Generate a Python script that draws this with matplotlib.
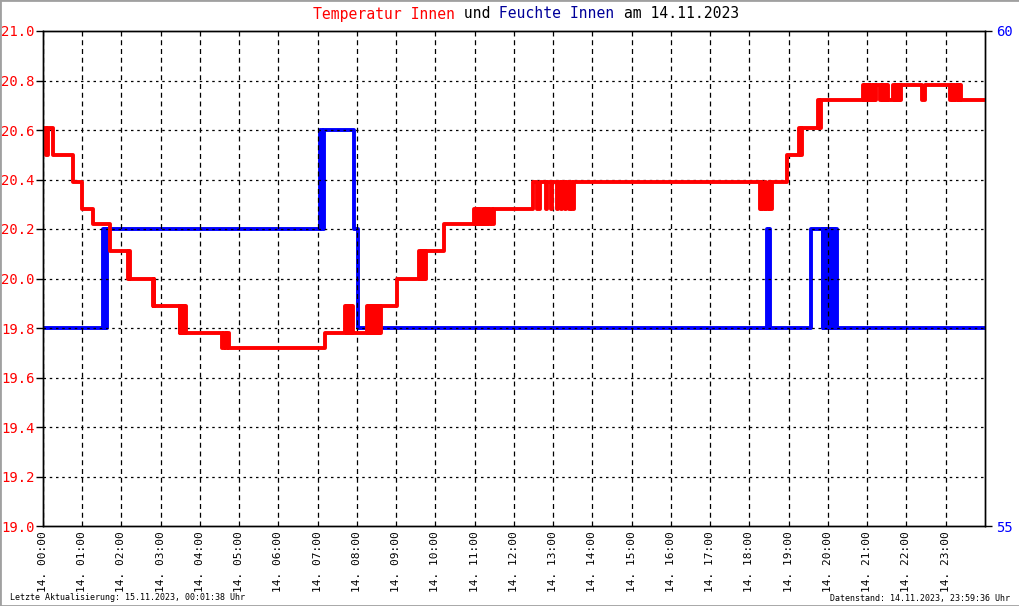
import matplotlib
matplotlib.use('Agg')
import matplotlib.pyplot as plt
from matplotlib.patches import Rectangle
from matplotlib.text import Annotation

# Temperatur Innen (°C), step changes as "HH:MM"
temp_times = ['00:00', '00:05', '00:08', '00:15', '00:46', '01:00', '01:16', '01:42',
              '02:10', '02:11', '02:13', '02:48', '02:49', '02:50',
              '03:29', '03:30', '03:32', '03:34', '03:36', '03:37', '03:39',
              '04:34', '04:37', '04:40', '04:42', '04:45',
              '07:11', '07:42', '07:44', '07:45', '07:47', '07:49', '07:51', '07:52', '07:54',
              '08:15', '08:17', '08:18', '08:20', '08:22', '08:24', '08:25', '08:27', '08:29',
              '08:31', '08:33', '08:35', '08:37',
              '09:01', '09:35', '09:37', '09:39', '09:41', '09:43', '09:44', '09:46',
              '10:13', '10:59', '11:01', '11:03', '11:05', '11:07', '11:09', '11:11', '11:13',
              '11:15', '11:17', '11:19', '11:21', '11:24', '11:26', '11:29',
              '12:29', '12:35', '12:40', '12:49', '12:50', '12:57', '12:58', '13:06', '13:07',
              '13:12', '13:13', '13:18', '13:19', '13:24', '13:26', '13:29', '13:31',
              '18:16', '18:18', '18:19', '18:24', '18:25', '18:30', '18:31', '18:35',
              '18:57', '19:16', '19:18', '19:20', '19:22',
              '19:45', '19:47', '19:49', '19:51',
              '20:53', '20:55', '20:57', '20:59', '21:01', '21:03', '21:05', '21:08', '21:10',
              '21:12', '21:14', '21:20', '21:22', '21:24', '21:26', '21:28', '21:30', '21:32',
              '21:40', '21:42', '21:44', '21:46', '21:48', '21:50', '21:52', '21:55',
              '22:24', '22:28', '23:07', '23:09', '23:11', '23:13', '23:15', '23:18', '23:20',
              '23:22', '23:24', '23:26', '24:00']
temp_values = [20.61, 20.50, 20.61, 20.50, 20.39, 20.28, 20.22, 20.11,
               20.00, 20.11, 20.00, 19.89, 20.00, 19.89,
               19.78, 19.89, 19.78, 19.89, 19.78, 19.89, 19.78,
               19.72, 19.78, 19.72, 19.78, 19.72,
               19.78, 19.89, 19.78, 19.89, 19.78, 19.89, 19.78, 19.89, 19.78,
               19.89, 19.78, 19.89, 19.78, 19.89, 19.78, 19.89, 19.78, 19.89,
               19.78, 19.89, 19.78, 19.89,
               20.00, 20.11, 20.00, 20.11, 20.00, 20.11, 20.00, 20.11,
               20.22, 20.28, 20.22, 20.28, 20.22, 20.28, 20.22, 20.28, 20.22,
               20.28, 20.22, 20.28, 20.22, 20.28, 20.22, 20.28,
               20.39, 20.28, 20.39, 20.28, 20.39, 20.28, 20.39, 20.28, 20.39,
               20.28, 20.39, 20.28, 20.39, 20.28, 20.39, 20.28, 20.39,
               20.28, 20.39, 20.28, 20.39, 20.28, 20.39, 20.28, 20.39,
               20.50, 20.61, 20.50, 20.61, 20.61,
               20.72, 20.61, 20.72, 20.72,
               20.78, 20.72, 20.78, 20.72, 20.78, 20.72, 20.78, 20.72, 20.78,
               20.72, 20.78, 20.72, 20.78, 20.72, 20.78, 20.72, 20.78, 20.72,
               20.78, 20.72, 20.78, 20.72, 20.78, 20.72, 20.78, 20.78,
               20.72, 20.78, 20.72, 20.78, 20.72, 20.78, 20.72, 20.78, 20.72,
               20.78, 20.72, 20.72, 20.72]

# Feuchte Innen (%)
hum_times = ['00:00', '01:32', '01:33', '01:35', '01:36', '01:38',
             '07:04', '07:07', '07:10', '07:55', '08:02',
             '18:27', '18:29', '18:30', '18:32',
             '19:34', '19:52', '19:53', '19:55', '19:56', '19:58', '19:59', '20:01',
             '20:03', '20:06', '20:07', '20:09', '20:12', '20:14', '24:00']
hum_values = [57, 58, 57, 58, 57, 58,
              59, 58, 59, 58, 57,
              58, 57, 58, 57,
              58, 57, 58, 57, 58, 57, 58, 57,
              58, 57, 58, 57, 58, 57, 57]

hour_labels = ['14. %02d:00' % h for h in range(24)]
temp_ticks = [19.0, 19.2, 19.4, 19.6, 19.8, 20.0, 20.2, 20.4, 20.6, 20.8, 21.0]


def to_hours(t):
    h, m = t.split(':')
    return int(h) + int(m) / 60.0


tx = [to_hours(t) for t in temp_times]
hx = [to_hours(t) for t in hum_times]

plt.rcParams['font.family'] = 'DejaVu Sans Mono'

W, H = 1020, 606
fig = plt.figure(figsize=(W / 100, H / 100), dpi=100)
ax = fig.add_axes([43 / W, (H - 526) / H, 942 / W, 495 / H])
ax2 = ax.twinx()
ax.set_zorder(ax2.get_zorder() + 1)
ax.patch.set_visible(False)

ax2.step(hx, hum_values, where='post', color='#0000ff', lw=2.8)
ax.step(tx, temp_values, where='post', color='#ff0000', lw=2.8)

ax.set_xlim(0, 24)
ax.set_ylim(19, 21)
ax2.set_ylim(55, 60)

ax.set_xticks(range(24))
ax.set_xticklabels(hour_labels, rotation=90, fontsize=8, va='top', ha='center')
ax.set_yticks(temp_ticks)
ax.set_yticklabels(['%.1f' % v for v in temp_ticks], color='#ff0000', fontsize=10)
ax2.set_yticks([55, 60])
ax2.set_yticklabels(['55', '60'], color='#0000ff', fontsize=10)

ax.tick_params(axis='x', length=0, pad=4)
ax.tick_params(axis='y', length=5, width=1, direction='out', pad=1)
ax2.tick_params(axis='y', length=5, width=1, direction='out', pad=3)

for x in range(24):
    ax.axvline(x, color='black', lw=0.9, ls=(0, (4, 3)), zorder=0.5)
for y in temp_ticks[1:-1]:
    ax.axhline(y, color='black', lw=0.9, ls=(0, (2, 3)), zorder=0.5)

for a in (ax, ax2):
    for s in a.spines.values():
        s.set_color('black')
        s.set_linewidth(1)

# title in several colours, each part placed right after the previous one
parts = [('Temperatur Innen', '#ff0000'), (' und', 'black'),
         (' Feuchte Innen', '#000099'), (' am 14.11.2023', 'black')]
prev = fig.text(313 / W, 1 - 14 / H, parts[0][0], color=parts[0][1],
                fontsize=10.6, ha='left', va='center')
for txt, col in parts[1:]:
    prev = fig.add_artist(Annotation(txt, xy=(1, 0), xycoords=prev, color=col,
                                     fontsize=10.6, ha='left', va='bottom'))

fig.text(10 / W, 1 - 598 / H, 'Letzte Aktualisierung: 15.11.2023, 00:01:38 Uhr',
         fontsize=6, ha='left', va='center')
fig.text(1010 / W, 1 - 598 / H, 'Datenstand: 14.11.2023, 23:59:36 Uhr',
         fontsize=6, ha='right', va='center')

fig.patches.append(Rectangle((0, 0), 1, 1, transform=fig.transFigure, fill=False,
                             edgecolor='#a0a0a0', lw=2))

fig.savefig('out.png', dpi=100)
